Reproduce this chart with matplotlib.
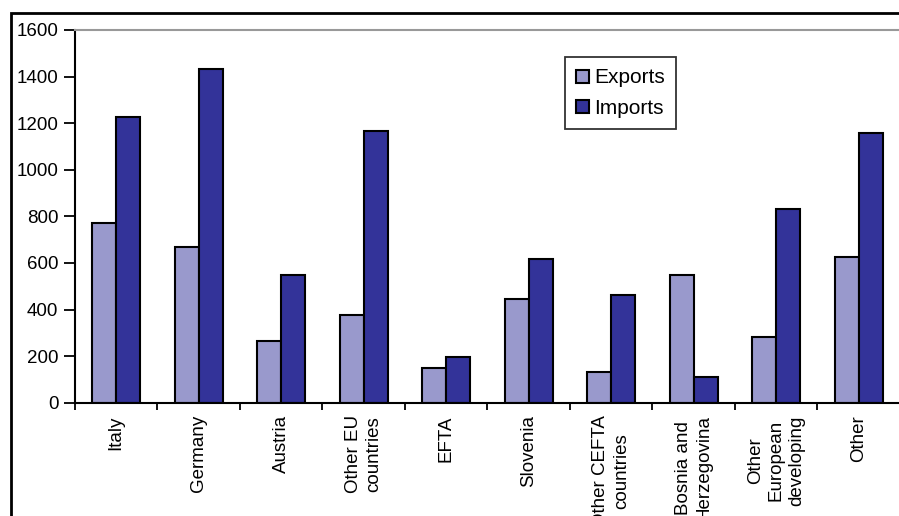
import matplotlib
matplotlib.use("Agg")
import matplotlib.pyplot as plt
import numpy as np
from matplotlib.patches import Rectangle

categories = ["Italy", "Germany", "Austria", "Other EU\ncountries", "EFTA", "Slovenia",
              "Other CEFTA\ncountries", "Bosnia and\nHerzegovina", "Other\nEuropean\ndeveloping", "Other"]
exports = [770, 667, 263, 378, 148, 447, 130, 550, 283, 625]
imports = [1225, 1431, 547, 1165, 198, 617, 463, 112, 830, 1158]
yticks = [0, 200, 400, 600, 800, 1000, 1200, 1400, 1600]

plt.rcParams['font.family'] = ['Liberation Sans', 'DejaVu Sans']
fs = 13.5

fig = plt.figure(figsize=(8.99, 5.16), dpi=100)
ax = fig.add_axes([75/899, 1-402.7/516, 1.0 - 75/899 + 0.001, (402.7-30)/516])

x = np.arange(len(categories))
w = 0.29
ax.bar(x - w/2, exports, w, color="#9999CC", edgecolor="black", linewidth=1.5, label="Exports")
ax.bar(x + w/2, imports, w, color="#333399", edgecolor="black", linewidth=1.5, label="Imports")

ax.set_xlim(-0.5, len(categories) - 0.5)
ax.set_ylim(0, 1600)
ax.set_yticks(yticks)
ax.set_yticklabels([str(v) for v in yticks], fontsize=fs)
ax.tick_params(axis='y', direction='out', length=8, width=1.3, pad=4)

ax.set_xticks(x)
ax.set_xticklabels(categories, rotation=90, fontsize=fs, va='top', ha='center',
                   multialignment='center', linespacing=1.3)
ax.tick_params(axis='x', which='major', length=0, pad=9)
ax.set_xticks(np.arange(len(categories)) - 0.5, minor=True)
ax.tick_params(axis='x', which='minor', direction='out', length=5, width=1.3)

for s in ['left', 'bottom']:
    ax.spines[s].set_linewidth(1.5)
    ax.spines[s].set_color('black')
ax.spines['top'].set_color('#999999')
ax.spines['top'].set_linewidth(1.5)
ax.spines['right'].set_visible(False)

leg = ax.legend(loc='upper left', bbox_to_anchor=(565/899, 1-57/516), bbox_transform=fig.transFigure,
                fontsize=15, frameon=True, fancybox=False, edgecolor='black',
                handlelength=0.58, handleheight=0.58, handletextpad=0.25, borderpad=0.55,
                labelspacing=0.55, borderaxespad=0)
leg.get_frame().set_linewidth(1.3)

# outer chart frame (cropped)
fig.patches.append(Rectangle((11/899, -0.1), 1.2, 1 - 13/516 + 0.1, transform=fig.transFigure,
                             fill=False, edgecolor='black', linewidth=2))

fig.savefig("out.png", dpi=100)
